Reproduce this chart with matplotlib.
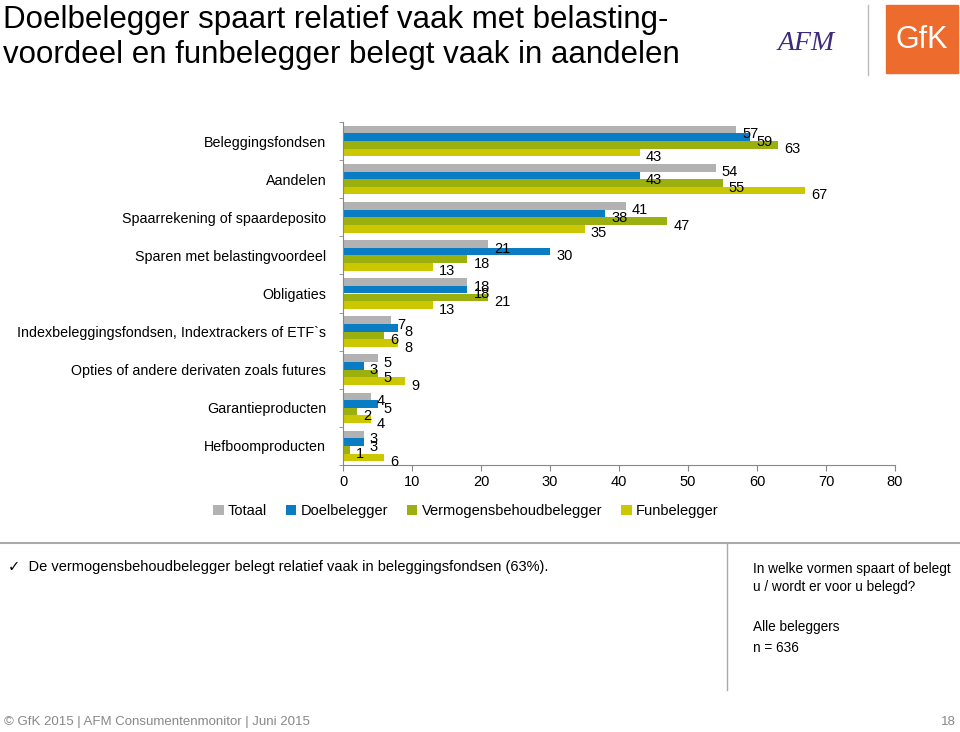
import numpy as np
import matplotlib.pyplot as plt
from matplotlib.patches import Rectangle

plt.rcParams['font.family'] = ['Liberation Sans', 'DejaVu Sans']

#%% data
categories = ['Beleggingsfondsen', 'Aandelen', 'Spaarrekening of spaardeposito',
              'Sparen met belastingvoordeel', 'Obligaties',
              'Indexbeleggingsfondsen, Indextrackers of ETF`s',
              'Opties of andere derivaten zoals futures',
              'Garantieproducten', 'Hefboomproducten']
series = ['Totaal', 'Doelbelegger', 'Vermogensbehoudbelegger', 'Funbelegger']
totaal = [57, 54, 41, 21, 18, 7, 5, 4, 3]
doel = [59, 43, 38, 30, 18, 8, 3, 5, 3]
verm = [63, 55, 47, 18, 21, 6, 5, 2, 1]
fun = [43, 67, 35, 13, 13, 8, 9, 4, 6]
xticks = [0, 10, 20, 30, 40, 50, 60, 70, 80]

colors = ['#b2b2b2', '#0a7cc3', '#9bb00e', '#cbc700']

#%% figure
fig = plt.figure(figsize=(9.6, 7.32), dpi=100)
ax = fig.add_axes([343/960, 1-465/732, (895-343)/960, (465-122)/732])

values = [totaal, doel, verm, fun]
n = len(categories)
y = np.arange(n)
h = 0.2
for i, (vals, col, name) in enumerate(zip(values, colors, series)):
    pos = y - 0.3 + i*h
    ax.barh(pos, vals, height=h, color=col, label=name)
    for p, v in zip(pos, vals):
        ax.text(v + 0.9, p + 0.12, str(v), va='center', ha='left', fontsize=10.5)

ax.set_ylim(n - 0.5, -0.5)
ax.set_xlim(0, 80)
ax.set_xticks(xticks)
ax.set_yticks(y)
ax.set_yticklabels(categories, fontsize=10.3)
ax.set_yticks(np.arange(-0.5, n, 1), minor=True)
ax.tick_params(axis='y', which='major', length=0, pad=12)
ax.tick_params(axis='y', which='minor', length=3, color='#888888')
ax.tick_params(axis='x', length=4, color='#888888', labelsize=10.5)
for s in ['top', 'right']:
    ax.spines[s].set_visible(False)
for s in ['left', 'bottom']:
    ax.spines[s].set_color('#888888')

ax.legend(loc='center', bbox_to_anchor=(466/960, 1-511/732), bbox_transform=fig.transFigure,
          ncol=4, frameon=False, fontsize=10.5, handlelength=0.7, handleheight=0.7,
          handletextpad=0.3, columnspacing=1.3)

#%% title and decorations
fig.text(3/960, 1-5/732, 'Doelbelegger spaart relatief vaak met belasting-\nvoordeel en funbelegger belegt vaak in aandelen',
         fontsize=22.5, va='top', ha='left', linespacing=1.2)

fig.text(806/960, 1-44/732, 'AFM', fontsize=20, color='#3d2a7a', family='Liberation Serif',
         ha='center', va='center', style='italic')
fig.add_artist(plt.Line2D([868/960, 868/960], [1-5/732, 1-75/732], color='#bbbbbb', lw=1))
fig.add_artist(Rectangle((886/960, 1-73/732), 72/960, 68/732, color='#ec6b2d',
                         transform=fig.transFigure))
fig.text(922/960, 1-40/732, 'GfK', fontsize=22, color='white', ha='center', va='center')

fig.add_artist(plt.Line2D([0, 1], [1-543/732, 1-543/732], color='#aaaaaa', lw=1.5))
fig.add_artist(plt.Line2D([727/960, 727/960], [1-543/732, 1-690/732], color='#aaaaaa', lw=1))

fig.text(8/960, 1-567/732, '\u2713  De vermogensbehoudbelegger belegt relatief vaak in beleggingsfondsen (63%).',
         fontsize=10.5, va='center', ha='left')
fig.text(753/960, 1-578/732, 'In welke vormen spaart of belegt\nu / wordt er voor u belegd?',
         fontsize=9.8, va='center', ha='left', linespacing=1.45)
fig.text(753/960, 1-627/732, 'Alle beleggers', fontsize=9.8, va='center', ha='left')
fig.text(753/960, 1-648/732, 'n = 636', fontsize=9.8, va='center', ha='left')

fig.text(4/960, 1-722/732, '\u00a9 GfK 2015 | AFM Consumentenmonitor | Juni 2015',
         fontsize=9.5, color='#888888', va='center', ha='left')
fig.text(956/960, 1-722/732, '18', fontsize=9.5, color='#888888', va='center', ha='right')

fig.savefig('out.png', dpi=100)
